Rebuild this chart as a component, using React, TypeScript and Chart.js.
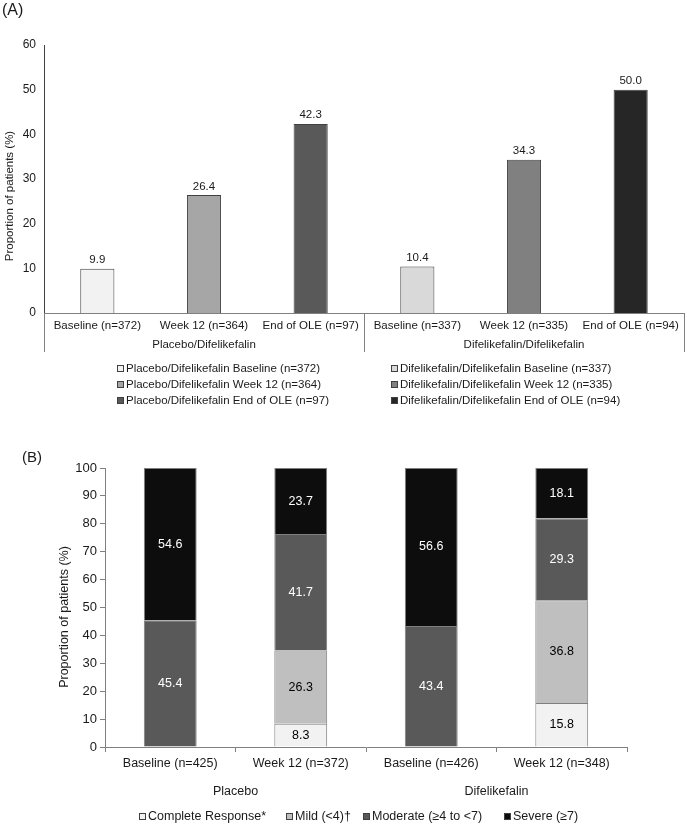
import React, { useEffect, useRef } from 'react';
import { Chart, registerables } from 'chart.js';

Chart.register(...registerables);

const FONT = "'Liberation Sans', Arial, sans-serif";

// ---------- Panel A data ----------
const categoriesA = [
  'Baseline (n=372)',
  'Week 12 (n=364)',
  'End of OLE (n=97)',
  'Baseline (n=337)',
  'Week 12 (n=335)',
  'End of OLE (n=94)',
];
const valuesA = [9.9, 26.4, 42.3, 10.4, 34.3, 50.0];
const groupsA = ['Placebo/Difelikefalin', 'Difelikefalin/Difelikefalin'];
const legendLeftA = [
  'Placebo/Difelikefalin Baseline (n=372)',
  'Placebo/Difelikefalin Week 12 (n=364)',
  'Placebo/Difelikefalin End of OLE (n=97)',
];
const legendRightA = [
  'Difelikefalin/Difelikefalin Baseline (n=337)',
  'Difelikefalin/Difelikefalin Week 12 (n=335)',
  'Difelikefalin/Difelikefalin End of OLE (n=94)',
];
const yTicksA = { min: 0, max: 60, step: 10 };

// ---------- Panel B data ----------
const categoriesB = ['Baseline (n=425)', 'Week 12 (n=372)', 'Baseline (n=426)', 'Week 12 (n=348)'];
const groupsB = ['Placebo', 'Difelikefalin'];
const seriesNamesB = ['Complete Response*', 'Mild (<4)\u2020', 'Moderate (\u22654 to <7)', 'Severe (\u22657)'];
const completeB = [null, 8.3, null, 15.8];
const mildB = [null, 26.3, null, 36.8];
const moderateB = [45.4, 41.7, 43.4, 29.3];
const severeB = [54.6, 23.7, 56.6, 18.1];
const yTicksB = { min: 0, max: 100, step: 10 };

const yTitle = 'Proportion of patients (%)';

// ---------- Styles ----------
const colorsA = ['#f2f2f2', '#a6a6a6', '#595959', '#d9d9d9', '#808080', '#262626'];
const colorsB = ['#f2f2f2', '#bfbfbf', '#595959', '#0d0d0d'];
const labelColorsB = ['#000000', '#000000', '#ffffff', '#ffffff'];
const legendXB = [139, 286, 363, 504];
const AXIS = '#808080';
const TEXT = '#1a1a1a';

function legendBox(ctx: CanvasRenderingContext2D, x: number, y: number, color: string) {
  ctx.fillStyle = color;
  ctx.fillRect(x, y - 4, 7, 7);
  ctx.strokeStyle = '#404040';
  ctx.lineWidth = 1;
  ctx.strokeRect(x + 0.5, y - 3.5, 6, 6);
}

const decorA = {
  id: 'decorA',
  afterDraw(chart: any) {
    const { ctx, chartArea: ca } = chart;
    ctx.save();
    const fontS = `11.5px ${FONT}`;
    // value labels
    const meta = chart.getDatasetMeta(0);
    ctx.font = fontS;
    ctx.fillStyle = TEXT;
    ctx.textAlign = 'center';
    ctx.textBaseline = 'bottom';
    meta.data.forEach((el: any, i: number) => {
      ctx.fillText(valuesA[i].toFixed(1), el.x, el.y - 3);
    });
    // group dividers
    const mid = (ca.left + ca.right) / 2;
    ctx.strokeStyle = AXIS;
    ctx.lineWidth = 1;
    [ca.left, mid, ca.right].forEach((x: number) => {
      const xx = Math.round(x) + 0.5;
      ctx.beginPath();
      ctx.moveTo(xx, ca.bottom);
      ctx.lineTo(xx, ca.bottom + 39);
      ctx.stroke();
    });
    // group labels
    ctx.fillStyle = TEXT;
    ctx.textBaseline = 'middle';
    ctx.fillText(groupsA[0], (ca.left + mid) / 2, ca.bottom + 32);
    ctx.fillText(groupsA[1], (mid + ca.right) / 2, ca.bottom + 32);
    // y title
    ctx.save();
    ctx.translate(10, 196);
    ctx.rotate(-Math.PI / 2);
    ctx.fillText(yTitle, 0, 0);
    ctx.restore();
    // panel label
    ctx.font = `16px ${FONT}`;
    ctx.textAlign = 'left';
    ctx.textBaseline = 'top';
    ctx.fillText('(A)', 2, 3);
    // legend
    ctx.font = fontS;
    ctx.textBaseline = 'middle';
    legendLeftA.forEach((t, i) => {
      const y = ca.bottom + 56 + i * 16;
      legendBox(ctx, 117, y, colorsA[i]);
      ctx.fillStyle = TEXT;
      ctx.fillText(t, 126, y);
    });
    legendRightA.forEach((t, i) => {
      const y = ca.bottom + 56 + i * 16;
      legendBox(ctx, 391, y, colorsA[i + 3]);
      ctx.fillStyle = TEXT;
      ctx.fillText(t, 400, y);
    });
    ctx.restore();
  },
};

const decorB = {
  id: 'decorB',
  afterDraw(chart: any) {
    const { ctx, chartArea: ca } = chart;
    ctx.save();
    const fontS = `12.5px ${FONT}`;
    ctx.font = fontS;
    ctx.textAlign = 'center';
    ctx.textBaseline = 'middle';
    // segment labels
    chart.data.datasets.forEach((ds: any, di: number) => {
      const meta = chart.getDatasetMeta(di);
      meta.data.forEach((el: any, i: number) => {
        const v = ds.data[i];
        if (v == null) return;
        ctx.fillStyle = labelColorsB[di];
        ctx.fillText(Number(v).toFixed(1), el.x, (el.y + el.base) / 2);
      });
    });
    // group labels
    const xs = chart.getDatasetMeta(0).data.map((e: any) => e.x);
    ctx.fillStyle = TEXT;
    ctx.fillText(groupsB[0], (xs[0] + xs[1]) / 2, ca.bottom + 45);
    ctx.fillText(groupsB[1], (xs[2] + xs[3]) / 2, ca.bottom + 45);
    // y title
    ctx.save();
    ctx.translate(65, 177);
    ctx.rotate(-Math.PI / 2);
    ctx.fillText(yTitle, 0, 0);
    ctx.restore();
    // panel label
    ctx.font = `15px ${FONT}`;
    ctx.textAlign = 'left';
    ctx.textBaseline = 'top';
    ctx.fillText('(B)', 22, 10);
    // legend
    ctx.font = fontS;
    ctx.textBaseline = 'middle';
    const y = ca.bottom + 70;
    seriesNamesB.forEach((t, i) => {
      const x = legendXB[i];
      legendBox(ctx, x, y, colorsB[i]);
      ctx.fillStyle = TEXT;
      ctx.fillText(t, x + 9, y);
    });
    ctx.restore();
  },
};

export default function App() {
  const refA = useRef<HTMLCanvasElement>(null);
  const refB = useRef<HTMLCanvasElement>(null);

  useEffect(() => {
    const chartA = new Chart(refA.current as HTMLCanvasElement, {
      type: 'bar',
      data: {
        labels: categoriesA,
        datasets: [
          {
            data: valuesA,
            backgroundColor: colorsA,
            borderColor: '#404040',
            borderWidth: 1,
            categoryPercentage: 1,
            barPercentage: 0.32,
          },
        ],
      },
      options: {
        animation: false,
        responsive: false,
        layout: { padding: { top: 45, right: 3, left: 0, bottom: 0 } },
        plugins: { legend: { display: false }, tooltip: { enabled: false } },
        scales: {
          x: {
            grid: { display: false, drawTicks: false },
            border: { display: true, color: AXIS },
            ticks: { font: { size: 11.5, family: FONT }, color: TEXT, padding: 6, maxRotation: 0, autoSkip: false },
            afterFit: (s: any) => {
              s.height = 127;
            },
          },
          y: {
            min: yTicksA.min,
            max: yTicksA.max,
            ticks: { stepSize: yTicksA.step, font: { size: 12, family: FONT }, color: TEXT, padding: 8 },
            grid: { display: false, drawTicks: false },
            border: { display: true, color: '#404040' },
            afterFit: (s: any) => {
              s.width = 44;
            },
          },
        },
      },
      plugins: [decorA],
    });

    const chartB = new Chart(refB.current as HTMLCanvasElement, {
      type: 'bar',
      data: {
        labels: categoriesB,
        datasets: [completeB, mildB, moderateB, severeB].map((d, i) => ({
          label: seriesNamesB[i],
          data: d,
          backgroundColor: colorsB[i],
          borderColor: '#7f7f7f',
          borderWidth: 1,
          categoryPercentage: 1,
          barPercentage: 0.405,
        })),
      },
      options: {
        animation: false,
        responsive: false,
        layout: { padding: { top: 28, right: 60, left: 0, bottom: 0 } },
        plugins: { legend: { display: false }, tooltip: { enabled: false } },
        scales: {
          x: {
            stacked: true,
            grid: { display: true, drawOnChartArea: false, drawTicks: true, tickLength: 5, color: AXIS, offset: true },
            border: { display: true, color: AXIS },
            ticks: { font: { size: 12.5, family: FONT }, color: TEXT, padding: 4, maxRotation: 0, autoSkip: false },
            afterFit: (s: any) => {
              s.height = 79;
            },
          },
          y: {
            stacked: true,
            min: yTicksB.min,
            max: yTicksB.max,
            ticks: { stepSize: yTicksB.step, font: { size: 13, family: FONT }, color: TEXT, padding: 3 },
            grid: { display: true, drawOnChartArea: false, drawTicks: true, tickLength: 5, color: AXIS },
            border: { display: true, color: AXIS },
            afterFit: (s: any) => {
              s.width = 105;
            },
          },
        },
      },
      plugins: [decorB],
    });

    return () => {
      chartA.destroy();
      chartB.destroy();
    };
  }, []);

  return (
    <div style={{ position: 'absolute', left: 0, top: 0, width: 687, height: 826, background: '#fff' }}>
      <canvas
        ref={refA}
        width={687}
        height={440}
        style={{ position: 'absolute', left: 0, top: 0, width: 687, height: 440 }}
      />
      <canvas
        ref={refB}
        width={687}
        height={386}
        style={{ position: 'absolute', left: 0, top: 440, width: 687, height: 386 }}
      />
    </div>
  );
}
